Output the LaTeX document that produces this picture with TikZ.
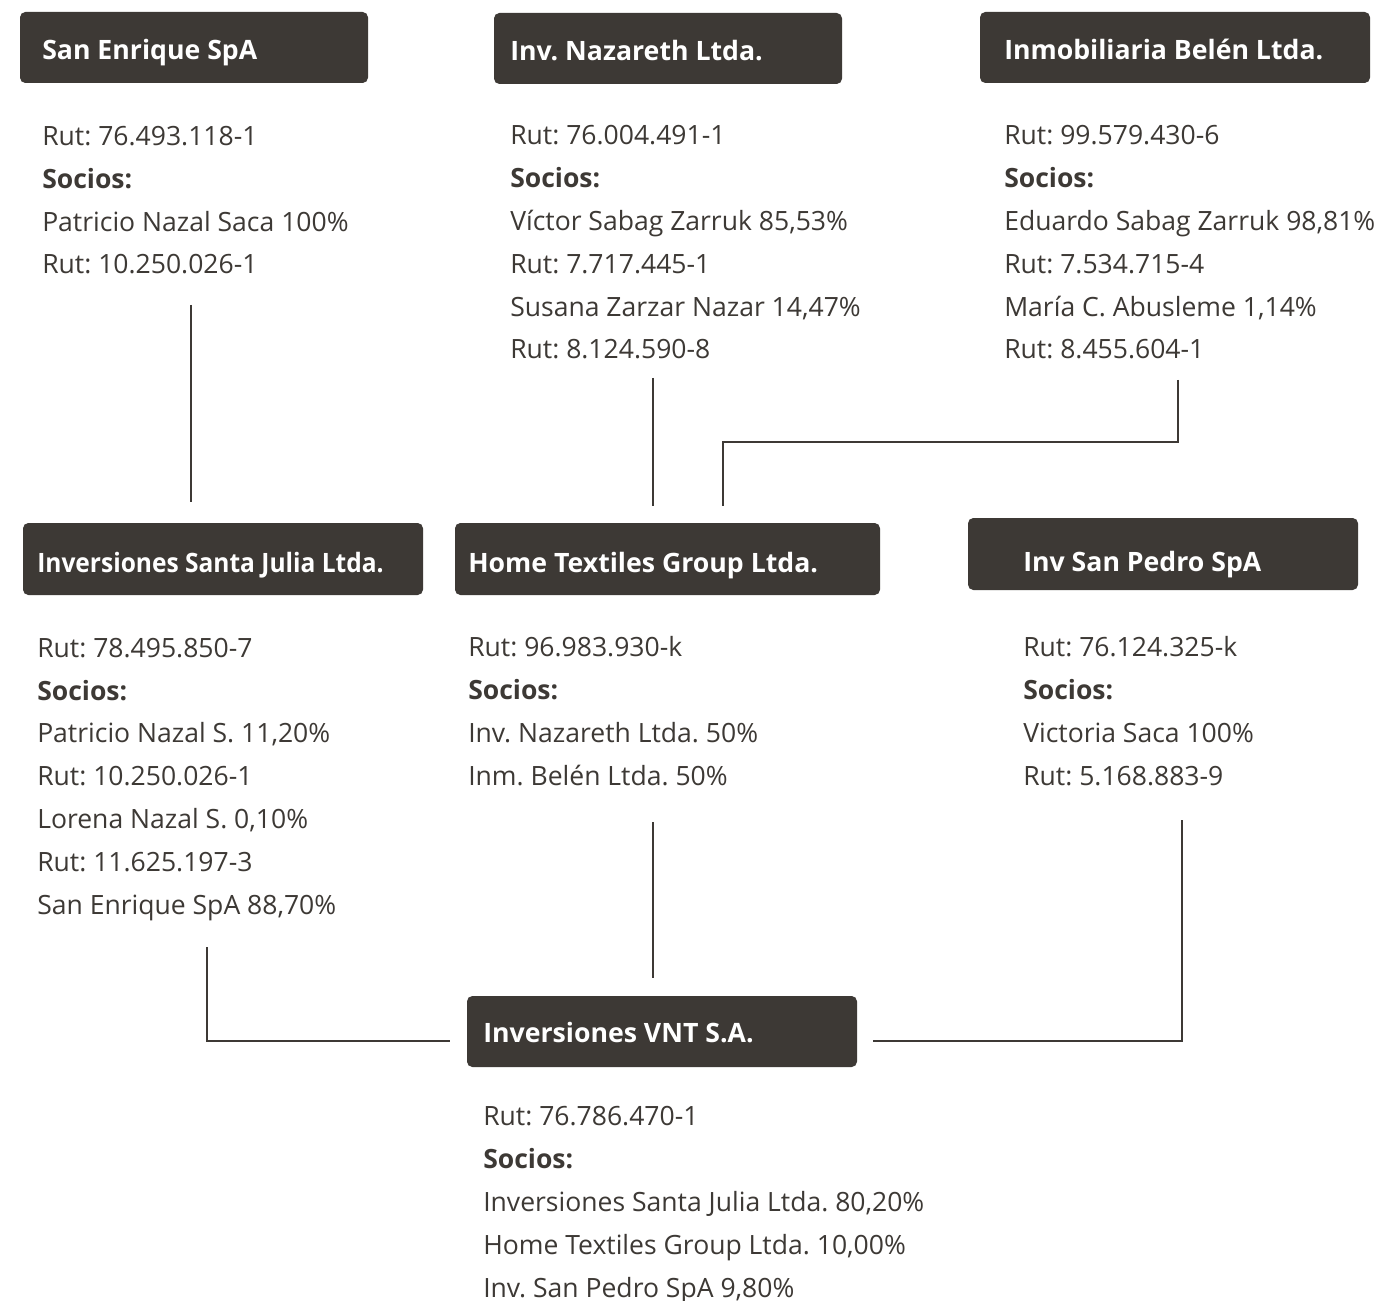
\documentclass[tikz,border=0pt]{standalone}
\usepackage{fontspec}
\setmainfont{Open Sans}
\newfontfamily\condfont[FakeStretch=0.92]{Open Sans}
\usetikzlibrary{fit}
\definecolor{boxc}{HTML}{3D3935}
\definecolor{txtc}{HTML}{3D3935}
\frenchspacing
\tikzset{
  hbox/.style={fill=boxc, rounded corners=4pt, inner sep=0pt, draw=none},
  htext/.style={text=white, font=\fontsize{20}{24}\selectfont\bfseries, inner sep=0pt, anchor=base west},
  hcond/.style={htext, font=\fontsize{20}{24}\condfont\bfseries},
  body/.style={text=txtc, font=\fontsize{19.9}{32.1}\selectfont\frenchspacing, inner sep=0pt, anchor=base west, align=left},
  conn/.style={draw=txtc, line width=1.6pt}
}
\begin{document}
\begin{tikzpicture}[x=0.75pt,y=-0.75pt]
\useasboundingbox[fill=white] (0,0) rectangle (1384,1301);
% header boxes
\node[hbox, fit={(20,12) (368,83)}] (b1) {};
\node[hbox, fit={(494,13) (842,84)}] (b2) {};
\node[hbox, fit={(980,12) (1370,83)}] (b3) {};
\node[hbox, fit={(23,523) (423,595)}] (b4) {};
\node[hbox, fit={(455,523) (880,595)}] (b5) {};
\node[hbox, fit={(968,518) (1358,590)}] (b6) {};
\node[hbox, fit={(467,996) (857,1067)}] (b7) {};
% header texts
\node[htext] (h1) at (42,60) {San Enrique SpA};
\node[htext] (h2) at (510,61) {Inv. Nazareth Ltda.};
\node[htext] (h3) at (1004,60) {Inmobiliaria Belén Ltda.};
\node[hcond] (h4) at (37,572) {Inversiones Santa Julia Ltda.};
\node[htext] (h5) at (468,572) {Home Textiles Group Ltda.};
\node[htext] (h6) at (1023,571) {Inv San Pedro SpA};
\node[htext] (h7) at (483,1042) {Inversiones VNT S.A.};
% body texts (anchored at the baseline of their last line)
\node[body] (t1) at (42,274) {Rut: 76.493.118-1\\\textbf{Socios:}\\Patricio Nazal Saca 100\%\\Rut: 10.250.026-1};
\node[body] (t2) at (510,359) {Rut: 76.004.491-1\\\textbf{Socios:}\\Víctor Sabag Zarruk 85,53\%\\Rut: 7.717.445-1\\Susana Zarzar Nazar 14,47\%\\Rut: 8.124.590-8};
\node[body] (t3) at (1004,359) {Rut: 99.579.430-6\\\textbf{Socios:}\\Eduardo Sabag Zarruk 98,81\%\\Rut: 7.534.715-4\\María C. Abusleme 1,14\%\\Rut: 8.455.604-1};
\node[body] (t4) at (37,914) {Rut: 78.495.850-7\\\textbf{Socios:}\\Patricio Nazal S. 11,20\%\\Rut: 10.250.026-1\\Lorena Nazal S. 0,10\%\\Rut: 11.625.197-3\\San Enrique SpA 88,70\%};
\node[body] (t5) at (468,785) {Rut: 96.983.930-k\\\textbf{Socios:}\\Inv. Nazareth Ltda. 50\%\\Inm. Belén Ltda. 50\%};
\node[body] (t6) at (1023,785) {Rut: 76.124.325-k\\\textbf{Socios:}\\Victoria Saca 100\%\\Rut: 5.168.883-9};
\node[body] (t7) at (483,1297) {Rut: 76.786.470-1\\\textbf{Socios:}\\Inversiones Santa Julia Ltda. 80,20\%\\Home Textiles Group Ltda. 10,00\%\\Inv. San Pedro SpA 9,80\%};
% connector end points
\coordinate (c1a) at (191,305); \coordinate (c1b) at (191,502);
\coordinate (c2a) at (653,378); \coordinate (c2b) at (653,506);
\coordinate (c3a) at (1178,380); \coordinate (c3m) at (723,442); \coordinate (c3b) at (723,506);
\coordinate (c4a) at (207,947); \coordinate (c4b) at (450,1041);
\coordinate (c5a) at (653,822); \coordinate (c5b) at (653,978);
\coordinate (c6a) at (1182,820); \coordinate (c6b) at (873,1041);
\draw[conn] (c1a) -- (c1b);
\draw[conn] (c2a) -- (c2b);
\draw[conn] (c3a) |- (c3m) -- (c3b);
\draw[conn] (c4a) |- (c4b);
\draw[conn] (c5a) -- (c5b);
\draw[conn] (c6a) |- (c6b);
\end{tikzpicture}
\end{document}
